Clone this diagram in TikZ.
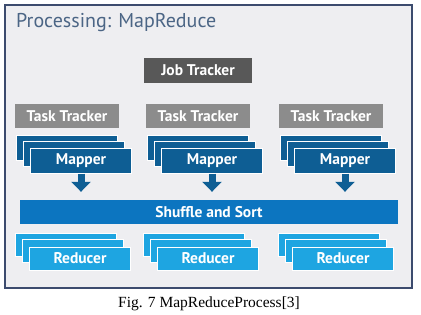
\documentclass[tikz,border=0pt]{standalone}
\usepackage{fontspec}
\setmainfont{PT Sans}
\newfontfamily\capfont{Liberation Serif}
\usetikzlibrary{arrows.meta, positioning}
\definecolor{framenavy}{RGB}{60, 75, 110}
\definecolor{panelgray}{RGB}{238, 238, 241}
\definecolor{titleblue}{RGB}{75, 101, 133}
\definecolor{jobgray}{RGB}{88, 88, 88}
\definecolor{taskgray}{RGB}{140, 140, 140}
\definecolor{mapblue}{RGB}{14, 94, 148}
\definecolor{shufblue}{RGB}{12, 117, 192}
\definecolor{redblue}{RGB}{30, 165, 225}

\begin{document}
\begin{tikzpicture}[x=1pt, y=-1pt,
  lbl/.style={font=\fontsize{15.5}{15.5}\selectfont\bfseries, text=white, inner sep=0pt},
  jbox/.style={lbl, fill=jobgray, minimum width=108pt, minimum height=25pt},
  tbox/.style={lbl, fill=taskgray, minimum width=104pt, minimum height=24pt},
  layer/.style={draw=white, line width=1pt, minimum width=101pt, minimum height=25pt, inner sep=0pt},
  mbox/.style={layer, fill=mapblue},
  rbox/.style={layer, fill=redblue, minimum height=23pt},
  sbox/.style={lbl, fill=shufblue, minimum width=378pt, minimum height=24pt},
  flow/.style={mapblue, line width=7pt, shorten >=8pt, -{Triangle[width=19pt, length=10pt]}}
]
  \useasboundingbox (0,0) rectangle (421,314);
  \draw[framenavy, line width=2pt, fill=panelgray] (5,5) rectangle (412,288);

  \node[anchor=base west, inner sep=0pt, text=titleblue, font=\fontsize{20}{20}\selectfont] (title) at (16,27) {Processing: MapReduce};

  \node[jbox] (job) at (198,70.5) {Job Tracker};
  \node[sbox] (sort) at (209,212) {Shuffle and Sort};

  \foreach \i/\x/\r in {1/67/66, 2/198/194, 3/331/329} {
    \node[tbox] (tt\i) at (\x,116) {Task Tracker};
    % mapper stack, back to front
    \node[mbox] (mp\i c) at (\x,147.5) {};
    \node[mbox] (mp\i b) at (\x+7,154) {};
    \node[mbox, lbl] (mp\i) at (\x+14,160.5) {Mapper};
    \draw[flow] (mp\i.south) -- (mp\i.south |- sort.north);
    % reducer stack
    \node[rbox] (rd\i c) at (\r,244.5) {};
    \node[rbox] (rd\i b) at (\r+7,251) {};
    \node[rbox, lbl] (rd\i) at (\r+14,258.5) {Reducer};
  }

  \node[anchor=base, inner sep=0pt, font=\capfont\fontsize{15.5}{16}\selectfont] (caption) at (209,307) {Fig. 7 MapReduceProcess[3]};
\end{tikzpicture}
\end{document}
